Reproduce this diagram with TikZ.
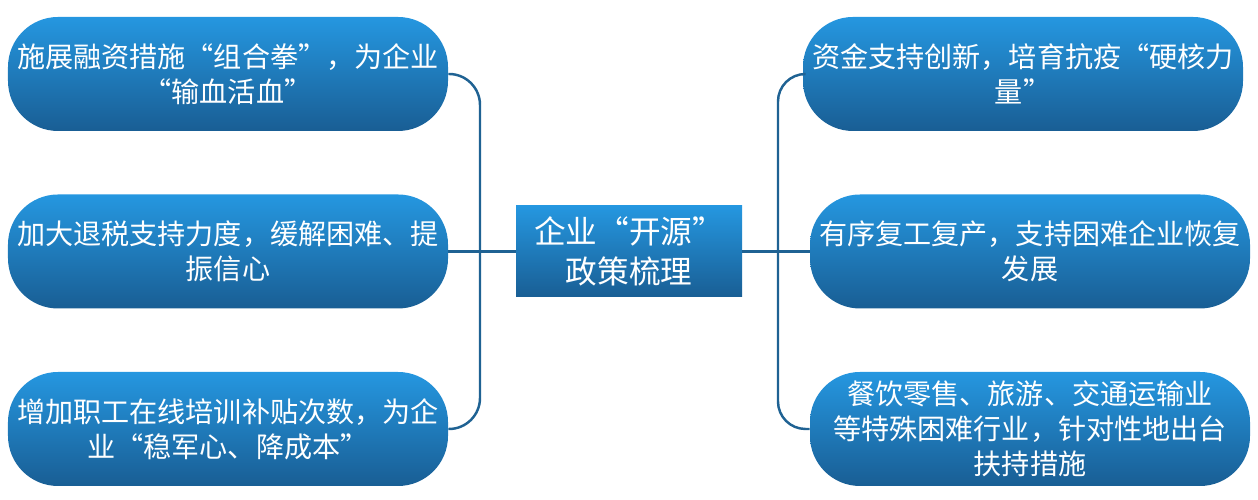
\documentclass[tikz,border=0pt]{standalone}
\usepackage{fontspec}
\setmainfont{Noto Sans CJK SC}
\usetikzlibrary{positioning}
\definecolor{boxtop}{HTML}{2597E0}
\definecolor{boxbot}{HTML}{195E94}
\definecolor{linkcol}{HTML}{1F6293}

\begin{document}
\begin{tikzpicture}[
    every node/.style={font=\fontsize{16}{20}\selectfont, text=white},
    box/.style={
      rounded corners=1cm,
      top color=boxtop,
      bottom color=boxbot,
      align=center,
      minimum width=8.8cm,
      minimum height=2.28cm,
      inner sep=2pt
    },
    hub/.style={
      top color=boxtop,
      bottom color=boxbot,
      align=center,
      minimum width=4.52cm,
      minimum height=1.82cm,
      font=\fontsize{18}{22.5}\selectfont
    },
    link/.style={draw=linkcol, line width=1.4pt}
  ]
    \useasboundingbox (0,0) rectangle (25.16,10);

    \node[hub] (m) at (12.58,4.97) {企业“开源”\\政策梳理};

    % left side
    \node[box] (a) at (4.56,8.52) {施展融资措施“组合拳”，为企业\\“输血活血”};
    \node[box] (b) at (4.56,4.97) {加大退税支持力度，缓解困难、提\\振信心};
    \node[box] (c) at (4.56,1.42) {增加职工在线培训补贴次数，为企\\业“稳军心、降成本”};

    % right side
    \node[box] (d) at (20.46,8.52) {资金支持创新，培育抗疫“硬核力\\量”};
    \node[box] (e) at (20.60,4.97) {有序复工复产，支持困难企业恢复\\发展};
    \node[box] (f) at (20.60,1.42) {餐饮零售、旅游、交通运输业\\等特殊困难行业，针对性地出台\\扶持措施};

    \coordinate (ls) at (9.6,4.97);
    \coordinate (rs) at (15.56,4.97);

    \draw[link, rounded corners=0.62cm] (a.east) -| (ls) |- (c.east);
    \draw[link] (b.east) -- (m.west);
    \draw[link, rounded corners=0.55cm] (d.west) -| (rs) |- (f.west);
    \draw[link] (m.east) -- (e.west);
\end{tikzpicture}
\end{document}
